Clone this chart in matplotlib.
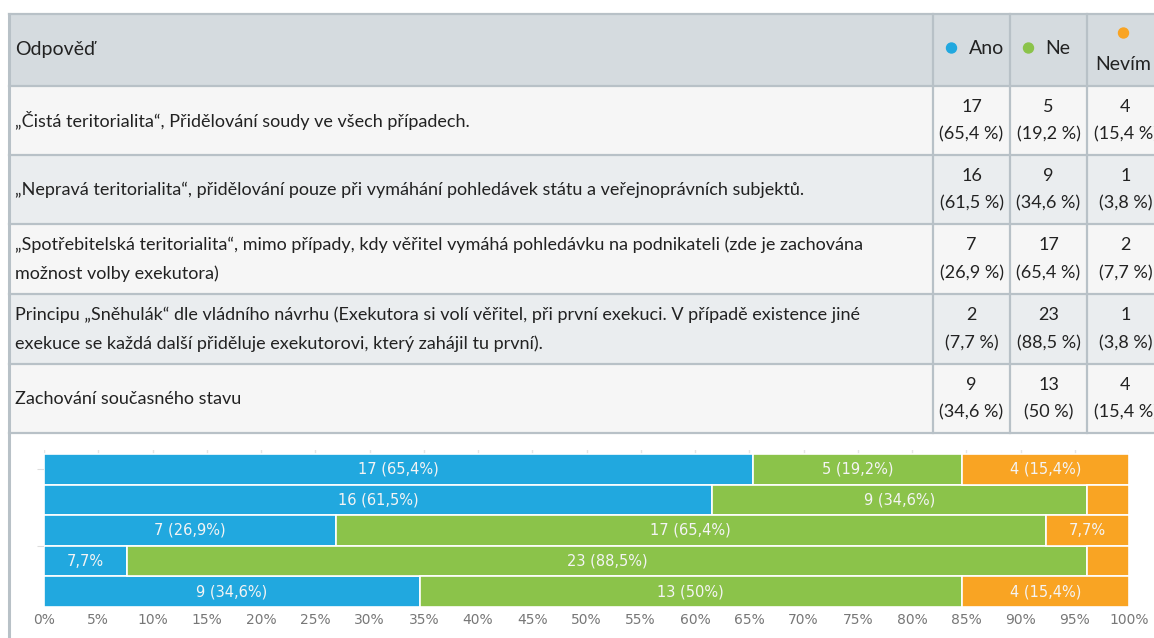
import matplotlib
matplotlib.use("Agg")
from matplotlib import pyplot as plt
from matplotlib.patches import Rectangle, Circle
import numpy as np

# 数据
categories = [
    "„Čistá teritorialita“, Přidělování soudy ve všech případech.",
    "„Nepravá teritorialita“, přidělování pouze při vymáhání pohledávek státu a veřejnoprávních subjektů.",
    "„Spotřebitelská teritorialita“, mimo případy, kdy věřitel vymáhá pohledávku na podnikateli (zde je zachována\nmožnost volby exekutora)",
    "Principu „Sněhulák“ dle vládního návrhu (Exekutora si volí věřitel, při první exekuci. V případě existence jiné\nexekuce se každá další přiděluje exekutorovi, který zahájil tu první).",
    "Zachování současného stavu",
]
series_names = ["Ano", "Ne", "Nevím"]
ano = [17, 16, 7, 2, 9]
ne = [5, 9, 17, 23, 13]
nevim = [4, 1, 2, 1, 4]
header_label = "Odpověď"
x_ticks = list(range(0, 101, 5))

colors = ["#21a8df", "#8bc34a", "#f9a423"]
table_font = ["Lato", "DejaVu Sans"]
fs = 13

values = np.array([ano, ne, nevim], dtype=float)
totals = values.sum(axis=0)
pcts = values / totals * 100


def fmt_pct(p):
    s = "{:.1f}".format(p)
    if s.endswith(".0"):
        s = s[:-2]
    return s.replace(".", ",")


W, H = 1154, 638
fig = plt.figure(figsize=(W / 100, H / 100), dpi=100)

# 表格部分（像素坐标）
bg = fig.add_axes([0, 0, 1, 1])
bg.set_xlim(0, W)
bg.set_ylim(H, 0)
bg.axis("off")

border = "#b8c1c7"
col_x = [9, 933, 1010, 1087, 1164]
row_y = [14, 86, 155, 224, 294, 364, 433]
row_bg = ["#d5dbdf", "#f6f6f6", "#eaedef", "#f6f6f6", "#eaedef", "#f6f6f6"]

for i in range(len(row_y) - 1):
    bg.add_patch(Rectangle((col_x[0], row_y[i]), col_x[-1] - col_x[0], row_y[i + 1] - row_y[i],
                           facecolor=row_bg[i], edgecolor="none", zorder=1))
for y in row_y:
    bg.plot([col_x[0], col_x[-1]], [y, y], color=border, lw=1.6, zorder=2)
for x in col_x[1:]:
    bg.plot([x, x], [row_y[0], row_y[-1]], color=border, lw=1.6, zorder=2)
bg.plot([col_x[0], col_x[0]], [row_y[0], H], color=border, lw=2.2, zorder=2)

# 表头
bg.text(15, (row_y[0] + row_y[1]) / 2, header_label, family=table_font, fontsize=fs + 1,
        va="center", ha="left", color="#222222", zorder=3)
centers = [(col_x[j + 1] + col_x[j + 2]) / 2 for j in range(3)]
for j, name in enumerate(series_names):
    if j < 2:
        bg.add_patch(Circle((centers[j] - 20, 48), 5, color=colors[j], zorder=3))
        bg.text(centers[j] - 3, 49, name, family=table_font, fontsize=fs + 1,
                va="center", ha="left", color="#222222", zorder=3)
    else:
        bg.add_patch(Circle((centers[j] - 2, 33), 5, color=colors[j], zorder=3))
        bg.text(centers[j] - 2, 65, name, family=table_font, fontsize=fs + 1,
                va="center", ha="center", color="#222222", zorder=3)

# 表格内容
for i, cat in enumerate(categories):
    y0, y1 = row_y[i + 1], row_y[i + 2]
    bg.text(15, (y0 + y1) / 2, cat, family=table_font, fontsize=fs, va="center", ha="left",
            color="#222222", linespacing=1.9, zorder=3)
    for j in range(3):
        txt = "{}\n({} %)".format(int(values[j, i]), fmt_pct(pcts[j, i]))
        bg.text(centers[j], (y0 + y1) / 2, txt, family=table_font, fontsize=fs, va="center",
                ha="center", color="#222222", linespacing=1.9, zorder=3)

# 堆叠条形图
ax = fig.add_axes([44 / W, 1 - 607 / H, (1129 - 44) / W, (607 - 450) / H])
y = np.arange(len(categories))
left = np.zeros(len(categories))
for j in range(3):
    ax.barh(y, pcts[j], left=left, height=1.0, color=colors[j], edgecolor="white",
            linewidth=1.2, zorder=2)
    for i in range(len(categories)):
        p = pcts[j, i]
        if p >= 10:
            lab = "{} ({}%)".format(int(values[j, i]), fmt_pct(p))
        elif p >= 5:
            lab = "{}%".format(fmt_pct(p))
        else:
            lab = ""
        if lab:
            ax.text(left[i] + p / 2, i, lab, ha="center", va="center", fontsize=10.5,
                    color="#f4f4f4", zorder=3)
    left += pcts[j]

ax.set_xlim(0, 100)
ax.set_ylim(4.5, -0.63)
ax.set_xticks(x_ticks)
ax.set_xticklabels(["{}%".format(t) for t in x_ticks], fontsize=10, color="#777777")
ax.tick_params(axis="x", length=0, pad=4)
ax.set_yticks([0, 2.5])
ax.set_yticklabels([])
ax.tick_params(axis="y", length=5, color="#dddddd")
ax.grid(axis="x", color="#e4e4e4", lw=1, zorder=0)
for s in ax.spines.values():
    s.set_visible(False)

plt.savefig("out.png", dpi=100)
